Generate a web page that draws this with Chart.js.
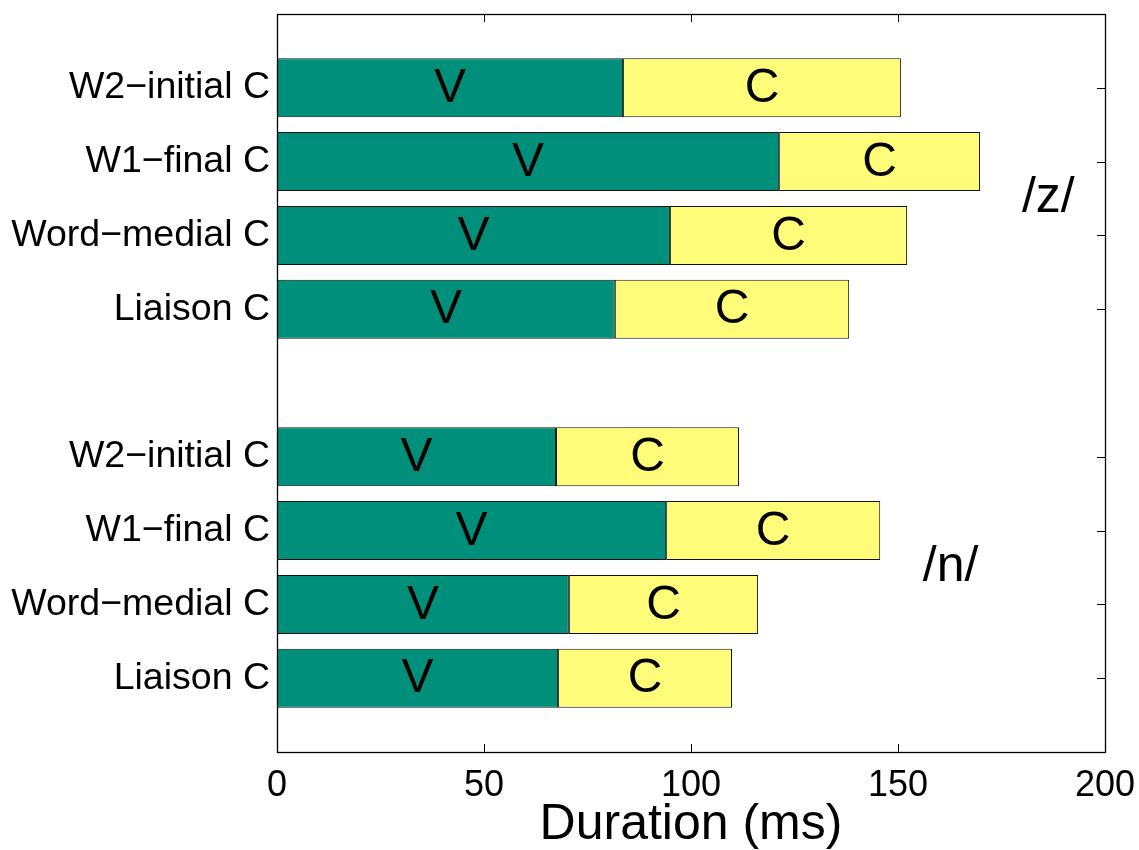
<!DOCTYPE html>
<html>
<head>
<meta charset="utf-8">
<script src="https://cdn.jsdelivr.net/npm/chart.js@4/dist/chart.umd.min.js"></script>
<style>
  html, body { margin: 0; padding: 0; background: #fff; }
  #wrap { width: 1139px; height: 850px; }
</style>
</head>
<body>
<div id="wrap"><canvas id="c" width="1139" height="850"></canvas></div>
<script>
// ---- data ----
const groups = ['/z/', '/n/'];
const categories = ['W2−initial C', 'W1−final C', 'Word−medial C', 'Liaison C'];
const vowelDur = [83.6, 121.3, 94.9, 81.6, 67.4, 94.0, 70.5, 67.9];      // V segment (ms)
const consDur  = [67.1, 48.5, 57.3, 56.6, 44.2, 51.7, 45.7, 42.0];      // C segment (ms)
const segmentNames = ['V', 'C'];
const xTicks = [0, 50, 100, 150, 200];

// row positions: groups of categories separated by one empty slot
const rowLabels = [];
const rowPos = [];
groups.forEach((g, gi) => {
  categories.forEach((c, ci) => {
    rowLabels.push(c);
    rowPos.push(gi * (categories.length + 1) + ci + 1);
  });
});
const yMax = groups.length * (categories.length + 1);

const teal = 'rgb(0,143,122)';
const yellow = 'rgb(255,252,122)';
const FONT = '"Liberation Sans", Arial, Helvetica, sans-serif';

function noPad(s) {
  s.paddingTop = 0; s.paddingBottom = 0; s.paddingLeft = 0; s.paddingRight = 0;
}

const boxPlugin = {
  id: 'matlabBox',
  beforeDatasetsDraw(chart) {
    const {ctx, chartArea: a, scales: {x, y}} = chart;
    ctx.save();
    ctx.strokeStyle = '#000';
    ctx.lineWidth = 1;
    const tl = 8;
    ctx.beginPath();
    xTicks.forEach(v => {
      const px = Math.round(x.getPixelForValue(v)) + 0.5;
      ctx.moveTo(px, a.bottom); ctx.lineTo(px, a.bottom - tl);
      ctx.moveTo(px, a.top); ctx.lineTo(px, a.top + tl);
    });
    rowPos.forEach(p => {
      const py = Math.round(y.getPixelForValue(p)) + 0.5;
      ctx.moveTo(a.left, py); ctx.lineTo(a.left + tl, py);
      ctx.moveTo(a.right, py); ctx.lineTo(a.right - tl, py);
    });
    ctx.stroke();
    ctx.restore();
  },
  afterDatasetsDraw(chart) {
    const {ctx, chartArea: a, scales: {x, y}} = chart;
    ctx.save();
    // segment letters
    ctx.fillStyle = '#000';
    ctx.font = '48px ' + FONT;
    ctx.textAlign = 'center';
    ctx.textBaseline = 'middle';
    chart.data.datasets.forEach((ds, di) => {
      const meta = chart.getDatasetMeta(di);
      meta.data.forEach(el => {
        const cx = (el.x + el.base) / 2;
        ctx.fillText(ds.label, cx, el.y + 1);
      });
    });
    // group annotations
    ctx.font = '50px ' + FONT;
    ctx.fillText(groups[0], x.getPixelForValue(186.3), y.getPixelForValue(2.5));
    ctx.fillText(groups[1], x.getPixelForValue(162.7), y.getPixelForValue(7.5));
    // box
    ctx.strokeStyle = '#000';
    ctx.lineWidth = 1.3;
    ctx.strokeRect(Math.round(a.left) + 0.5, Math.round(a.top) + 0.5,
                   Math.round(a.right - a.left), Math.round(a.bottom - a.top));
    ctx.restore();
  }
};

new Chart(document.getElementById('c'), {
  type: 'bar',
  data: {
    datasets: [
      {
        label: segmentNames[0],
        data: vowelDur.map((v, i) => ({x: v, y: rowPos[i]})),
        backgroundColor: teal,
        borderColor: '#111',
        borderWidth: 1,
        borderSkipped: false,
        barPercentage: 0.8,
        categoryPercentage: 1.0
      },
      {
        label: segmentNames[1],
        data: consDur.map((v, i) => ({x: v, y: rowPos[i]})),
        backgroundColor: yellow,
        borderColor: '#111',
        borderWidth: 1,
        borderSkipped: false,
        barPercentage: 0.8,
        categoryPercentage: 1.0
      }
    ]
  },
  options: {
    indexAxis: 'y',
    responsive: false,
    animation: false,
    devicePixelRatio: 1,
    layout: { padding: { top: 14, right: 34, left: 0, bottom: 0 } },
    plugins: { legend: { display: false }, tooltip: { enabled: false } },
    scales: {
      x: {
        type: 'linear',
        stacked: true,
        min: 0, max: 200,
        offset: false,
        afterBuildTicks(s) { s.ticks = xTicks.map(v => ({value: v})); },
        afterFit(s) { s.height = 98; noPad(s); },
        grid: { display: false, drawTicks: false },
        border: { display: false },
        ticks: {
          color: '#000',
          font: { family: FONT, size: 36 },
          padding: 12,
          maxRotation: 0
        },
        title: {
          display: true,
          text: 'Duration (ms)',
          color: '#000',
          font: { family: FONT, size: 50, lineHeight: 1.0 },
          padding: { top: 0, bottom: 0 }
        }
      },
      y: {
        type: 'linear',
        stacked: true,
        reverse: true,
        offset: false,
        min: 0, max: yMax,
        afterBuildTicks(s) { s.ticks = rowPos.map(v => ({value: v})); },
        afterFit(s) { s.width = 277; noPad(s); },
        grid: { display: false, drawTicks: false },
        border: { display: false },
        ticks: {
          color: '#000',
          font: { family: FONT, size: 37.5 },
          padding: 7,
          callback(v) {
            const i = rowPos.indexOf(v);
            return i >= 0 ? rowLabels[i] : '';
          }
        }
      }
    }
  },
  plugins: [boxPlugin]
});
</script>
</body>
</html>
